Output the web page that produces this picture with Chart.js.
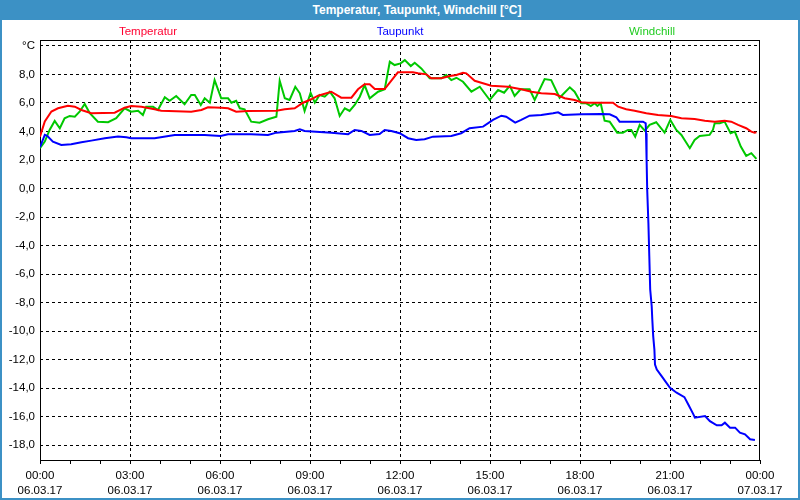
<!DOCTYPE html>
<html><head><meta charset="utf-8">
<script src="https://cdn.jsdelivr.net/npm/chart.js@4/dist/chart.umd.min.js"></script>
<style>
html,body{margin:0;padding:0;background:#fff;}
#wrap{position:relative;width:800px;height:500px;overflow:hidden;}
#titlebar{position:absolute;left:0;top:0;width:800px;height:20px;background:#3c91c5;color:#fff;font:bold 12px 'Liberation Sans',Arial,sans-serif;line-height:20px;}
#titlebar span{position:absolute;left:417px;top:0;transform:translateX(-50%);white-space:nowrap;}
canvas{position:absolute;left:0;top:0;}
</style></head>
<body>
<div id="wrap">
<canvas id="c" width="800" height="500"></canvas>
<div id="titlebar"><span id="ttl"></span></div>
</div>
<script>
const chartTitle = 'Temperatur, Taupunkt, Windchill [°C]';
const seriesNames = ['Temperatur', 'Taupunkt', 'Windchill'];

// time in hours since 06.03.17 00:00
const tempTimes = [0,0.16,0.38,0.6,0.93,1.16,1.38,1.71,2.49,2.82,3.04,3.38,3.82,4.04,5.04,5.38,5.6,6.04,6.27,6.54,6.93,7.88,8.16,8.49,8.77,9.04,9.27,9.71,10.04,10.38,10.6,10.82,10.99,11.16,11.49,11.77,11.93,12.43,12.6,12.88,13.04,13.38,13.66,13.88,14.1,14.21,14.49,14.71,15.04,15.6,16.04,16.38,16.71,17.16,17.49,17.82,18.04,18.27,19.1,19.27,19.54,19.82,20.21,20.6,21.04,21.38,21.82,22.16,22.49,22.82,23.04,23.27,23.54,23.71,23.82,23.88];
const tempValues = [3.64,4.7,5.4,5.63,5.81,5.74,5.51,5.28,5.32,5.67,5.79,5.74,5.56,5.46,5.39,5.51,5.7,5.67,5.63,5.39,5.44,5.46,5.56,5.63,6.02,6.26,6.51,6.79,6.37,6.37,6.96,7.31,7.31,6.98,6.98,7.73,8.15,8.15,8.08,8.01,7.73,7.73,7.89,7.96,8.12,8.08,7.56,7.42,7.21,7.14,6.96,6.79,6.68,6.63,6.33,6.21,6.05,6.02,6.02,5.74,5.56,5.46,5.28,5.16,5.09,4.93,4.88,4.76,4.69,4.76,4.69,4.46,4.23,3.99,3.92,3.95];

const dewTimes = [0,0.16,0.24,0.43,0.71,1.04,1.38,1.71,2.16,2.6,2.88,3.04,3.82,4.49,5.49,6.02,6.27,7.04,7.6,7.88,8.49,8.66,8.82,9.71,10.27,10.49,10.71,10.99,11.32,11.49,11.71,11.99,12.27,12.54,12.82,13.1,13.71,14.04,14.32,14.77,15.1,15.38,15.54,15.84,16.04,16.32,16.71,17.1,17.27,17.43,18.04,18.71,18.99,19.21,19.32,20.1,20.19,20.2,20.22,20.24,20.28,20.31,20.34,20.39,20.41,20.44,20.48,20.5,20.56,20.72,21.0,21.22,21.48,21.61,21.78,21.83,22.17,22.33,22.56,22.72,22.83,23.0,23.17,23.33,23.5,23.67,23.83];
const dewValues = [2.9,3.76,3.69,3.29,3.06,3.11,3.25,3.36,3.53,3.64,3.6,3.53,3.53,3.76,3.76,3.69,3.81,3.81,3.76,3.92,4.04,4.16,4.04,3.92,3.81,4.11,4.04,3.76,3.83,4.11,4.04,3.88,3.53,3.41,3.46,3.64,3.69,3.88,4.23,4.34,4.81,5.11,5.04,4.62,4.81,5.11,5.16,5.28,5.35,5.16,5.21,5.23,5.21,5.0,4.69,4.69,4.58,3.88,2.01,-0.09,-2.42,-4.76,-7.09,-8.26,-9.19,-10.36,-11.3,-12.35,-12.7,-13.17,-13.98,-14.33,-14.64,-15.15,-15.85,-16.08,-15.97,-16.32,-16.62,-16.62,-16.43,-16.78,-16.78,-17.13,-17.25,-17.6,-17.65];

const windTimes = [0,0.16,0.32,0.49,0.66,0.82,0.99,1.16,1.32,1.49,1.66,1.93,2.27,2.54,2.82,3.04,3.27,3.43,3.54,3.77,3.93,4.16,4.32,4.54,4.82,5.04,5.16,5.36,5.49,5.66,5.82,6.04,6.27,6.38,6.54,6.66,6.82,7.04,7.32,7.6,7.88,7.99,8.16,8.32,8.51,8.66,8.82,9.02,9.16,9.32,9.49,9.66,9.82,9.99,10.16,10.32,10.49,10.66,10.82,10.99,11.27,11.49,11.66,11.82,12.02,12.16,12.36,12.49,12.71,12.99,13.38,13.54,13.71,13.88,14.1,14.38,14.66,14.99,15.27,15.47,15.66,15.82,16.02,16.32,16.49,16.82,17.04,17.32,17.66,17.82,18.04,18.21,18.36,18.49,18.58,18.69,18.82,18.99,19.24,19.43,19.6,19.71,19.84,19.99,20.16,20.32,20.54,20.82,21.01,21.21,21.38,21.66,21.82,21.99,22.32,22.43,22.49,22.66,22.82,23.02,23.16,23.36,23.54,23.71,23.88];
const windValues = [2.83,3.29,4.11,4.74,4.23,4.93,5.09,5.04,5.39,5.93,5.28,4.69,4.65,4.93,5.63,5.39,5.46,5.16,5.74,5.74,5.51,6.4,6.16,6.49,5.91,6.56,6.56,5.86,6.33,6.02,7.61,6.33,6.33,6.02,6.16,5.63,5.56,4.69,4.62,4.86,5.04,7.56,6.33,6.21,7.14,6.68,5.44,6.72,6.02,6.56,6.44,6.79,6.33,5.09,5.63,5.44,5.86,6.44,7.26,6.33,6.79,6.96,8.89,8.66,8.78,9.01,8.59,8.82,8.43,7.73,7.73,7.96,7.61,7.77,7.49,6.79,7.14,6.21,6.91,6.72,7.21,6.49,6.96,6.96,6.21,7.68,7.61,6.37,7.10,6.79,5.98,5.98,5.79,5.98,5.79,5.98,4.76,4.69,3.92,3.92,4.11,4.11,3.64,4.46,4.06,4.46,4.65,3.92,4.81,4.11,3.76,2.83,3.41,3.69,3.76,4.11,4.58,4.58,4.69,3.88,3.99,2.94,2.29,2.48,2.08];

const xTickHours = [0,3,6,9,12,15,18,21,24];
const xTickTimes = ['00:00','03:00','06:00','09:00','12:00','15:00','18:00','21:00','00:00'];
const xTickDates = ['06.03.17','06.03.17','06.03.17','06.03.17','06.03.17','06.03.17','06.03.17','06.03.17','07.03.17'];
const yTickValues = [-18,-16,-14,-12,-10,-8,-6,-4,-2,0,2,4,6,8,10];
const yUnitLabel = '°C';

document.getElementById('ttl').textContent = chartTitle;

function pts(t, v){ const n = Math.min(t.length, v.length); const a=[]; for(let i=0;i<n;i++) a.push({x:t[i], y:v[i]}); return a; }

const FONT = "'Liberation Sans', Arial, sans-serif";
const BLUE = '#3c91c5';

const framePlugin = {
  id: 'frame',
  beforeDraw(chart){
    const c = chart.ctx;
    c.save();
    c.fillStyle = '#fff';
    c.fillRect(0,0,chart.width,chart.height);
    c.restore();
  },
  beforeDatasetsDraw(chart){
    const c = chart.ctx, a = chart.chartArea;
    c.save();
    c.strokeStyle = '#000'; c.lineWidth = 1; c.setLineDash([]);
    c.strokeRect(Math.round(a.left)+0.5, Math.round(a.top)+0.5, Math.round(a.right-a.left)-1, Math.round(a.bottom-a.top));
    c.restore();
  },
  afterDraw(chart){
    const c = chart.ctx, a = chart.chartArea;
    c.save();
    // legend
    const fr = [0.15, 0.5, 0.85];
    c.font = '11.5px ' + FONT;
    c.textAlign = 'center'; c.textBaseline = 'middle';
    chart.data.datasets.forEach((d,i)=>{
      c.fillStyle = d.legendColor || d.borderColor;
      c.fillText(d.label, a.left + fr[i]*(a.right-a.left), 32);
    });
    // window border
    c.fillStyle = BLUE;
    c.fillRect(0,0,2,chart.height);
    c.fillRect(chart.width-2,0,2,chart.height);
    c.fillRect(0,chart.height-2,chart.width,2);
    c.restore();
  }
};

new Chart(document.getElementById('c'), {
  type: 'line',
  data: {
    datasets: [
      {label: seriesNames[0], data: pts(tempTimes,tempValues), borderColor:'#ff0000', legendColor:'#ff0030', borderWidth:2, pointRadius:0, tension:0, fill:false},
      {label: seriesNames[1], data: pts(dewTimes,dewValues), borderColor:'#0000ff', borderWidth:2, pointRadius:0, tension:0, fill:false},
      {label: seriesNames[2], data: pts(windTimes,windValues), borderColor:'#00c800', legendColor:'#22cc22', borderWidth:2, pointRadius:0, tension:0, fill:false}
    ]
  },
  options: {
    responsive:false, animation:false, devicePixelRatio:1,
    layout:{padding:{top:40,right:40,left:0,bottom:0}},
    plugins:{legend:{display:false}, title:{display:false}, tooltip:{enabled:false}},
    scales:{
      x:{
        type:'linear', min:0, max:24,
        afterBuildTicks(s){ const t=[]; for(let h=0;h<=24;h++) t.push({value:h}); s.ticks=t; },
        afterFit(s){ s.height = 40; },
        ticks:{
          autoSkip:false, maxRotation:0, minRotation:0, color:'#000', padding:4,
          font:{family:FONT, size:11.5, lineHeight:1.3},
          callback(v){ const i = xTickHours.indexOf(v); return i>=0 ? [xTickTimes[i], xTickDates[i]] : ''; }
        },
        grid:{
          color(ctx){ const v = ctx.tick ? ctx.tick.value : -1; return (v%3===0 && v!==0 && v!==24) ? '#000' : 'rgba(0,0,0,0)'; },
          tickColor:'#000', tickLength:4, lineWidth:1, drawTicks:true
        },
        border:{display:false, dash:[3,3]}
      },
      y:{
        type:'linear', min:-19.05, max:10.42,
        afterBuildTicks(s){ s.ticks = yTickValues.map(v=>({value:v})); },
        afterFit(s){ s.width = 40; },
        ticks:{
          color:'#000', padding:5, font:{family:FONT, size:11.5},
          callback(v){ return v===10 ? yUnitLabel : v.toFixed(1).replace('.',','); }
        },
        grid:{color:'#000', lineWidth:1, drawTicks:false},
        border:{display:false, dash:[3,3]}
      }
    }
  },
  plugins:[framePlugin]
});
</script>
</body></html>
